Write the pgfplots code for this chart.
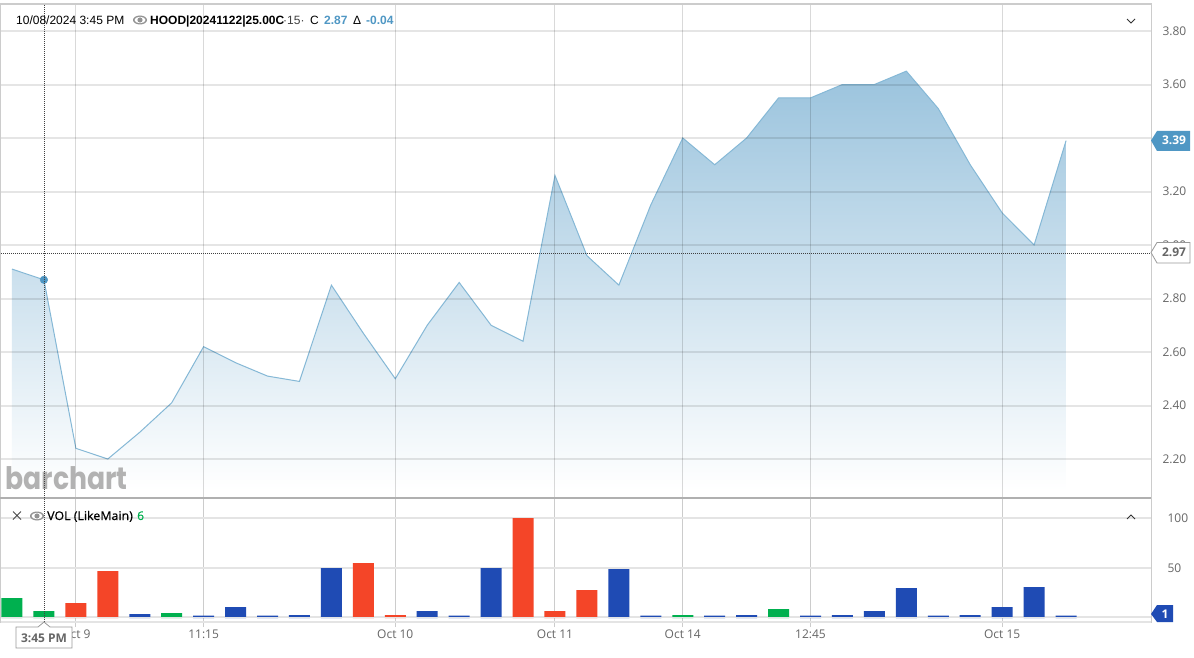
\documentclass[border=0pt]{standalone}
\usepackage{fontspec}
\setmainfont{Open Sans}
\newfontfamily\semibold[FakeBold=0.6]{Open Sans}
\newfontfamily\arial{Liberation Sans}
\newfontfamily\logofont{Poppins}
\usepackage{pgfplots}
\usepackage{pgfplotstable}
\pgfplotsset{compat=1.18}
\definecolor{gridh}{HTML}{E4E4E4}
\definecolor{gridv}{HTML}{CCCCCC}
\definecolor{ticktxt}{HTML}{666666}
\definecolor{lineblue}{HTML}{85B8D6}
\definecolor{filltop}{HTML}{9AC3DD}
\definecolor{tagblue}{HTML}{4F97C4}
\definecolor{volgreen}{HTML}{00B04F}
\definecolor{volred}{HTML}{F44528}
\definecolor{volblue}{HTML}{1F4BB4}

% price, one bar every 15 min
\pgfplotstableread{
i p
0 2.91
1 2.87
2 2.24
3 2.20
4 2.30
5 2.41
6 2.62
7 2.56
8 2.51
9 2.49
10 2.85
11 2.67
12 2.50
13 2.70
14 2.86
15 2.70
16 2.64
17 3.26
18 2.96
19 2.85
20 3.15
21 3.40
22 3.30
23 3.40
24 3.55
25 3.55
26 3.60
27 3.60
28 3.65
29 3.51
30 3.30
31 3.12
32 3.00
33 3.39
}\price

\pgfplotstableread{
i v
0 20
1 7
5 5
21 3
24 9
}\volgreentab
\pgfplotstableread{
i v
2 15
3 47
11 55
12 3
16 100
17 7
18 28
}\volredtab
\pgfplotstableread{
i v
4 4
6 2.3
7 11
8 2.3
9 3
10 50
13 7
14 2.3
15 50
19 49
20 2.3
22 2.3
23 3
25 2.3
26 3
27 7
28 30
29 2.3
30 3
31 11
32 31
33 2.3
}\volbluetab

\newcommand{\eye}[2]{%
  \fill[gray!85] (#1,#2) ellipse (7 and 4.5);
  \fill[white] (#1,#2) ellipse (5.5 and 3.2);
  \fill[gray!85] (#1,#2) circle (2.6);
}

\begin{document}
\begin{tikzpicture}[x=1pt,y=1pt]
\useasboundingbox[fill=white] (0,0) rectangle (1194,657);

\pgfplotsset{
  chart/.style={
    scale only axis, width=1150pt,
    xmin=-0.344, xmax=35.66,
    xtick={2,6,12,17,21,25,31},
    xmajorgrids, ymajorgrids,
    major x grid style={draw=gridv, line width=1pt},
    major y grid style={draw=gridh, line width=2pt},
    axis line style={draw=gridv, line width=1pt},
    yticklabel pos=right,
    ytick style={draw=none},
    yticklabel style={anchor=west, xshift=8pt, text=ticktxt, font=\fontsize{12}{14}\selectfont},
    /pgf/number format/assume math mode=true,
    scaled ticks=false,
  }
}

\begin{axis}[chart, name=main, at={(1pt,160pt)}, anchor=south west, height=493pt,
  ymin=2.058, ymax=3.901,
  ytick={2.2,2.4,2.6,2.8,3.0,3.2,3.4,3.6,3.8},
  yticklabel style={/pgf/number format/fixed, /pgf/number format/fixed zerofill, /pgf/number format/precision=2},
  xticklabels={}, xtick style={draw=none},
  axis on top,
  % see-through grid, it darkens over the fill like the reference
  major x grid style={draw=black, draw opacity=0.15, line width=1pt},
  major y grid style={draw=black, draw opacity=0.10, line width=2pt},
]
\addplot[draw=none, forget plot, top color=filltop, bottom color=white, shading angle=0]
  coordinates {(0,2.91)(1,2.87)(2,2.24)(3,2.20)(4,2.30)(5,2.41)(6,2.62)(7,2.56)(8,2.51)(9,2.49)(10,2.85)(11,2.67)(12,2.50)(13,2.70)(14,2.86)(15,2.70)(16,2.64)(17,3.26)(18,2.96)(19,2.85)(20,3.15)(21,3.40)(22,3.30)(23,3.40)(24,3.55)(25,3.55)(26,3.60)(27,3.60)(28,3.65)(29,3.51)(30,3.30)(31,3.12)(32,3.00)(33,3.39)(33,2.084)(0,2.084)} -- cycle;
\addplot[lineblue, line width=1pt] table[x=i,y=p] {\price};
\addplot[only marks, mark=*, mark size=3.8pt, mark options={fill=tagblue, draw=tagblue}] coordinates {(1,2.87)};
\end{axis}

\begin{axis}[chart, name=vol, at={(1pt,35pt)}, anchor=south west, height=124pt,
  ymin=-4, ymax=120,
  ytick={1,50,100}, yticklabels={{},50,100},
  xticklabels={Oct 9,11:15,Oct 10,Oct 11,Oct 14,12:45,Oct 15},
  xtick pos=bottom, tick align=outside, major tick length=5pt,
  xtick style={draw=gridv, line width=1pt},
  xticklabel style={text=ticktxt, font=\fontsize{12}{14}\selectfont, yshift=1pt},
  ybar, bar width=21pt, bar shift=0pt,
]
\addplot[draw=none, fill=volgreen] table[x=i,y=v] {\volgreentab};
\addplot[draw=none, fill=volred] table[x=i,y=v] {\volredtab};
\addplot[draw=none, fill=volblue] table[x=i,y=v] {\volbluetab};
\end{axis}

% overlays, coordinates in reference pixels
\begin{scope}[shift={(0,657)}, x=1pt, y=-1pt]
  \draw[gridv, line width=1pt] (0,4.5) -- (1151,4.5);
  \draw[gridh, line width=1.4pt] (1,617.7) -- (1151,617.7);
  \draw[gridh, line width=2pt] (1,622) -- (1151,622);
  \draw[color={rgb,255:red,176;green,176;blue,176}, line width=2pt] (0,498) -- (1151,498);

  % logo
  \node[anchor=base west, inner sep=0, xscale=0.86, text=black!30, font=\logofont\bfseries\fontsize{31}{34}\selectfont] at (5.5,489) {barchart};

  % crosshair
  \draw[black!75, line width=0.8pt, dash pattern=on 1pt off 1pt] (44,5) -- (44,622);
  \draw[black!75, line width=0.8pt, dash pattern=on 1pt off 1pt] (1,253) -- (1151,253);

  % header
  \node[anchor=base west, inner sep=0, font=\arial\fontsize{12}{14}\selectfont] at (16,24.5) {10/08/2024 3:45 PM};
  \eye{140}{20}
  \node[anchor=base west, inner sep=0, font=\arial\bfseries\fontsize{12}{14}\selectfont] at (150,24.5) {HOOD|20241122|25.00C};
  \node[anchor=base west, inner sep=0, text=black!75, font=\arial\fontsize{12}{14}\selectfont] at (283,24.5) {\textperiodcentered 15\textperiodcentered};
  \node[anchor=base west, inner sep=0, font=\arial\fontsize{12}{14}\selectfont] at (310,24.5) {C};
  \node[anchor=base west, inner sep=0, text=tagblue, font=\arial\bfseries\fontsize{12}{14}\selectfont] at (324,24.5) {2.87};
  \node[anchor=base west, inner sep=0, font=\arial\fontsize{12}{14}\selectfont] at (353,24.5) {Δ};
  \node[anchor=base west, inner sep=0, text=tagblue, font=\arial\bfseries\fontsize{12}{14}\selectfont] at (366,24.5) {-0.04};
  \draw[black!80, line width=1pt] (1127,19) -- (1131,23) -- (1135,19);

  % volume legend
  \draw[black!70, line width=0.8pt] (13,511.5) -- (21,519.5) (21,511.5) -- (13,519.5);
  \eye{37}{516}
  \node[anchor=base west, inner sep=0, xscale=1.035, font=\semibold\fontsize{12}{14}\selectfont] at (47,520) {VOL (LikeMain)};
  \node[anchor=base west, inner sep=0, text=volgreen, font=\semibold\fontsize{12}{14}\selectfont] at (137,520) {6};
  \draw[black!80, line width=1pt] (1127,519) -- (1131,515) -- (1135,519);

  % price tags
  \draw[fill=white, draw=gray!80, line width=0.8pt] (1151,252.5) -- (1157,242.5) -- (1190,242.5) -- (1190,263) -- (1157,263) -- cycle;
  \node[text=ticktxt, inner sep=0, font=\bfseries\fontsize{12}{14}\selectfont] at (1174,252.5) {2.97};
  \fill[tagblue] (1151,140.5) -- (1157,131) -- (1190,131) -- (1190,151) -- (1157,151) -- cycle;
  \node[text=white, inner sep=0, font=\bfseries\fontsize{12}{14}\selectfont] at (1174,140) {3.39};
  \fill[volblue] (1151,614) -- (1157,605) -- (1173,605) -- (1173,622) -- (1157,622) -- cycle;
  \node[text=white, inner sep=0, font=\bfseries\fontsize{12}{14}\selectfont] at (1165,614) {1};

  % time tooltip
  \draw[fill=white, draw=gray!80, line width=0.8pt] (16,627) -- (38,627) -- (44,622) -- (50,627) -- (72,627) -- (72,648) -- (16,648) -- cycle;
  \node[text=ticktxt, inner sep=0, font=\bfseries\fontsize{12}{14}\selectfont] at (44,638) {3:45 PM};
\end{scope}
\end{tikzpicture}
\end{document}
